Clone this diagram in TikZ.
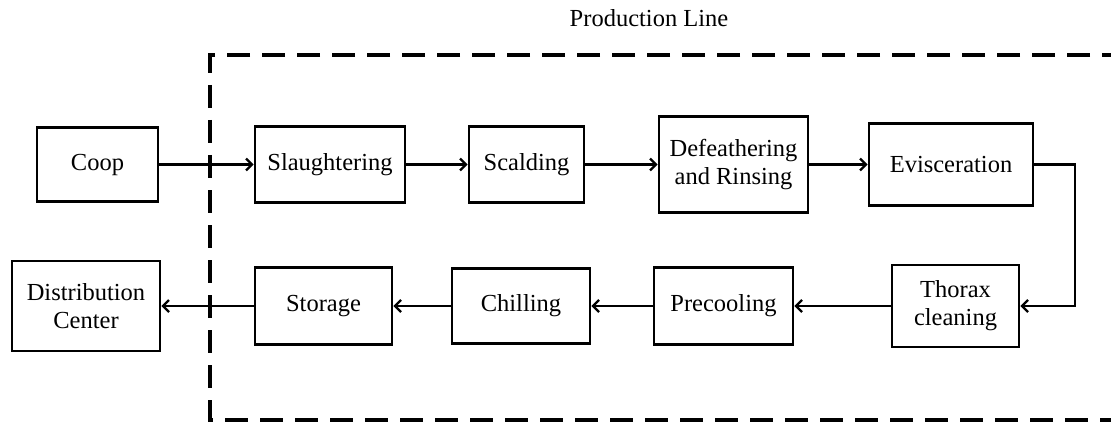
\documentclass[tikz,border=0pt]{standalone}
\usepackage{fontspec}
\setmainfont{Liberation Serif}
\usetikzlibrary{arrows.meta}
\begin{document}
\begin{tikzpicture}[x=1pt,y=-1pt,
  every node/.style={font=\fontsize{24.5}{28}\selectfont},
  stage/.style={draw, line width=2.6pt, align=center, inner sep=0pt},
  flow/.style={line width=2.6pt, -{Straight Barb[length=6pt,width=12pt,line width=2.4pt]}},
  zone/.style={line width=3.2pt, dash pattern=on 23pt off 12pt}]
\useasboundingbox (0,0) rectangle (1111,425);

% production line boundary (open on the right)
\draw[zone] (1125,55) -- (210,55) -- (210,420) -- (1125,420);
\node (title) at (649,18) {Production Line};

% top row
\node[stage, minimum width=121, minimum height=74]  (coop)  at (97.5,164.5) {Coop};
\node[stage, minimum width=150, minimum height=76]  (slau)  at (330,164.5)  {Slaughtering};
\node[stage, minimum width=115, minimum height=76]  (scal)  at (526.5,164.5) {Scalding};
\node[stage, minimum width=149, minimum height=96]  (defe)  at (733.5,164.5) {Defeathering\\and Rinsing};
\node[stage, minimum width=164, minimum height=82]  (evis)  at (951,164.5)  {Evisceration};

% bottom row
\node[stage, minimum width=127, minimum height=82]  (thor)  at (955.5,306) {Thorax\\cleaning};
\node[stage, minimum width=139, minimum height=77]  (prec)  at (723.5,306) {Precooling};
\node[stage, minimum width=138, minimum height=75]  (chil)  at (521,306)   {Chilling};
\node[stage, minimum width=137, minimum height=77]  (stor)  at (323.5,306) {Storage};
\node[stage, minimum width=148, minimum height=90]  (dist)  at (86,306)    {Distribution\\Center};

% connectors
\coordinate (turn) at (1075,0);
\draw[flow] (coop) -- (slau);
\draw[flow] (slau) -- (scal);
\draw[flow] (scal) -- (defe);
\draw[flow] (defe) -- (evis);
\draw[flow] (evis.east) -- (evis.east -| turn) -- (thor.east -| turn) -- (thor.east);
\draw[flow] (thor) -- (prec);
\draw[flow] (prec) -- (chil);
\draw[flow] (chil) -- (stor);
\draw[flow] (stor) -- (dist);
\end{tikzpicture}
\end{document}
